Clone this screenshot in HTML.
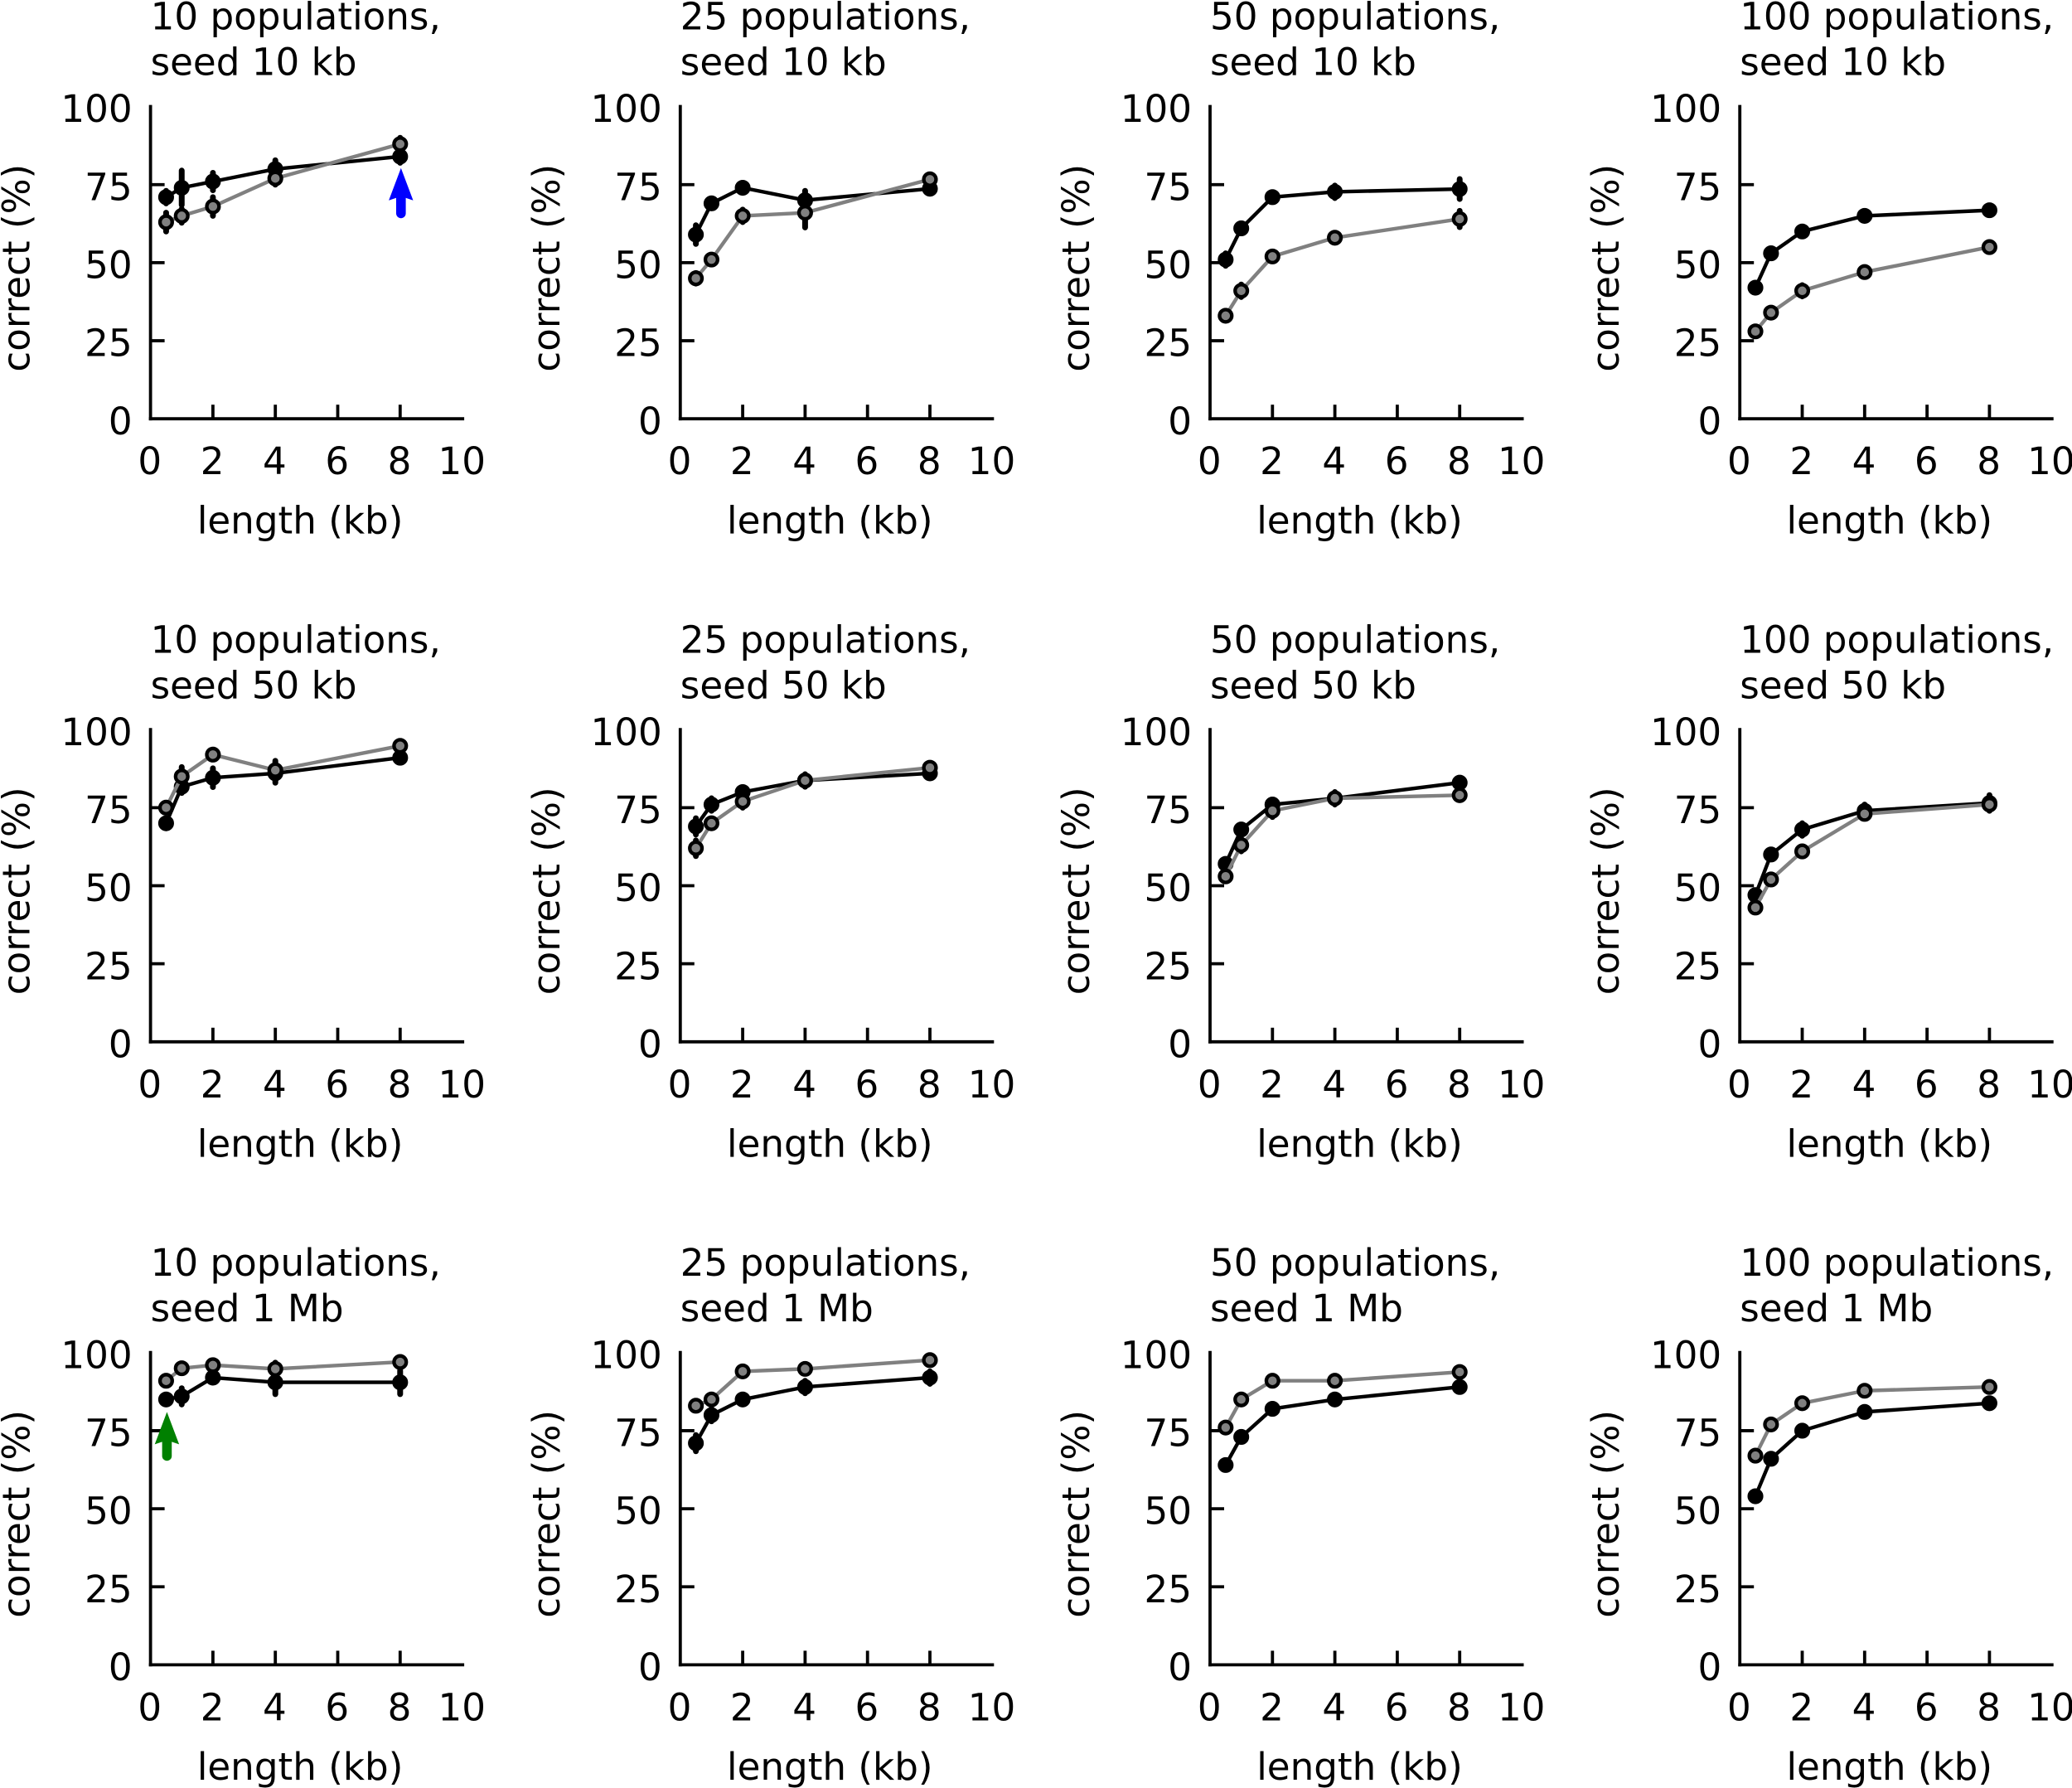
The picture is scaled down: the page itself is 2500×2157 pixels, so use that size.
<!DOCTYPE html>
<html lang="en">
<head>
<meta charset="utf-8">
<title>Percent correct versus length across populations and seed sizes</title>
<style>
html,body{margin:0;padding:0;background:#fff;width:2500px;height:2157px;overflow:hidden}
svg{display:block}
text{font-family:"DejaVu Sans","Liberation Sans",sans-serif;font-size:45.2px;fill:#000}
</style>
</head>
<body>
<svg id="chart" xmlns="http://www.w3.org/2000/svg" width="2500" height="2157" viewBox="0 0 2500 2157"></svg>
<script>
const populations = [10, 25, 50, 100];
const seeds = ['10 kb', '50 kb', '1 Mb'];
const lengths = [0.5, 1, 2, 4, 8];
const xTickLabels = [0, 2, 4, 6, 8, 10];
const yTickLabels = [0, 25, 50, 75, 100];

const blackValues = [
  [[71, 74, 76, 80, 84], [59, 69, 74, 70, 73.7], [51, 61, 71, 72.7, 73.6], [42, 53, 60, 65, 66.8]],
  [[70, 81.7, 84.6, 86, 91], [69, 76, 80, 83.7, 86], [57, 68, 76, 78, 83], [47, 60, 68, 74, 76.5]],
  [[85, 86, 92, 90.5, 90.5], [71, 80, 85, 89, 92], [64, 73, 82, 85, 89], [54, 66, 75, 81, 83.8]]
];
const grayValues = [
  [[63, 65, 68, 77, 88], [45, 51, 65, 66, 76.7], [33, 41, 52, 58, 64], [28, 34, 41, 47, 55]],
  [[75, 85, 92, 87, 94.8], [62, 70, 77, 83.7, 87.8], [53, 63, 74, 78, 79], [43, 52, 61, 73, 76]],
  [[91, 95, 96, 94.8, 97], [83, 85, 94, 94.8, 97.6], [76, 85, 91, 91, 93.8], [67, 77, 83.8, 87.8, 89]]
];
const blackErrors = [
  [[2, 5.5, 2.8, 2.8, 2], [3, 1, 1, 3, 0], [2, 0, 0, 2, 3.2], [0, 0, 0, 0, 0]],
  [[1.6, 2, 3, 3, 0], [2.6, 2, 1, 1, 0], [0, 0, 0, 0, 0], [1.5, 0, 2, 2, 2.5]],
  [[1.5, 2.6, 1.5, 3.8, 3.8], [2.6, 2, 0, 2, 2], [0, 0, 0, 0, 0], [0, 0, 0, 0, 0]]
];
const grayErrors = [
  [[3, 2.2, 3, 2, 2], [1.7, 0, 2, 4.7, 0], [0, 2, 0, 0, 2.6], [0, 0, 1.8, 0, 0]],
  [[1.5, 3, 0, 3, 0], [2.5, 0, 2, 2, 0], [0, 2, 2, 2, 0], [0, 0, 0, 0, 0]],
  [[0, 0, 0, 2, 0], [0, 0, 0, 0, 0], [0, 0, 0, 0, 0], [0, 0, 0, 0, 0]]
];

const blueArrowPanel = [0, 0];
const blueArrowX = 8;
const blueArrowRange = [65.8, 80.3];
const greenArrowPanel = [2, 0];
const greenArrowX = 0.5;
const greenArrowRange = [66.9, 81];

const NS = 'http://www.w3.org/2000/svg';
const svg = document.getElementById('chart');
const PANEL_W = 376.5;
const PANEL_H = 376.6;
const COL_STEP = 639.2;
const ROW_STEP = 751.6;
const LEFT = 181.6;
const BOTTOM = 505.2;

function make(parent, tag, attrs) {
  const el = document.createElementNS(NS, tag);
  for (const k in attrs) el.setAttribute(k, attrs[k]);
  parent.appendChild(el);
  return el;
}
function scaleX(col, v) { return LEFT + COL_STEP * col + v / 10 * PANEL_W; }
function scaleY(row, v) { return BOTTOM + ROW_STEP * row - v / 100 * PANEL_H; }

function drawSeries(g, row, col, values, errors, color, kind) {
  const eg = make(g, 'g', {});
  
  
  values.forEach(function (v, i) {
    if (!errors[i]) return;
    const bar = make(eg, 'line', {
      x1: scaleX(col, lengths[i]), x2: scaleX(col, lengths[i]),
      y1: scaleY(row, v - errors[i]), y2: scaleY(row, v + errors[i]),
      stroke: '#000', 'stroke-width': 7, 'stroke-linecap': 'round'
    });
    
    
  });
  const pts = values.map(function (v, i) { return scaleX(col, lengths[i]) + ',' + scaleY(row, v); }).join(' ');
  const line = make(g, 'polyline', { points: pts, fill: 'none', stroke: color, 'stroke-width': 4.4, 'stroke-linejoin': 'round' });
  
  
  values.forEach(function (v, i) {
    const dot = make(g, 'circle', {
      cx: scaleX(col, lengths[i]), cy: scaleY(row, v), r: 7.4,
      fill: color, stroke: '#000', 'stroke-width': 4.3
    });
    
    
  });
}

function drawArrow(row, col, xVal, range, color, name) {
  const g = make(svg, 'g', {});
  
  
  const x = scaleX(col, xVal) + 1;
  const tip = scaleY(row, range[1]);
  const tail = scaleY(row, range[0]);
  const base = tip + 39;
  make(g, 'line', { x1: x, x2: x, y1: tail, y2: base - 4, stroke: color, 'stroke-width': 11.6, 'stroke-linecap': 'round' });
  make(g, 'polygon', {
    points: [x + ',' + tip, (x + 14.7) + ',' + base, (x + 5.8) + ',' + (base - 3), (x - 5.8) + ',' + (base - 3), (x - 14.7) + ',' + base].join(' '),
    fill: color
  });
}

seeds.forEach(function (seed, row) {
  populations.forEach(function (pop, col) {
    const panel = make(svg, 'g', {});
    
    
    const x0 = scaleX(col, 0);
    const y0 = scaleY(row, 0);

    const title = make(panel, 'text', { x: x0, y: y0 - 469.5 });
    
    
    const t1 = make(title, 'tspan', { x: x0, dy: 0 });
    t1.textContent = pop + ' populations,';
    const t2 = make(title, 'tspan', { x: x0, dy: 55 });
    t2.textContent = 'seed ' + seed;

    xTickLabels.forEach(function (t) {
      const px = scaleX(col, t);
      if (t > 0 && t < 10) {
        const tick = make(panel, 'line', { x1: px, x2: px, y1: y0, y2: y0 - 17, stroke: '#000', 'stroke-width': 3.8 });
        
        
      }
      const lab = make(panel, 'text', { x: px - 0.8, y: y0 + 67, 'text-anchor': 'middle' });
      
      
      lab.textContent = t;
    });

    yTickLabels.forEach(function (t) {
      const py = scaleY(row, t);
      if (t > 0 && t < 100) {
        const tick = make(panel, 'line', { x1: x0, x2: x0 + 17, y1: py, y2: py, stroke: '#000', 'stroke-width': 3.8 });
        
        
      }
      const lab = make(panel, 'text', { x: x0 - 22, y: py + 18.6, 'text-anchor': 'end' });
      
      
      lab.textContent = t;
    });

    const yAxis = make(panel, 'line', { x1: x0, x2: x0, y1: y0 + 1.9, y2: scaleY(row, 100) - 2, stroke: '#000', 'stroke-width': 3.8 });
    
    
    const xAxis = make(panel, 'line', { x1: x0 - 1.9, x2: scaleX(col, 10) + 2, y1: y0, y2: y0, stroke: '#000', 'stroke-width': 3.8 });
    
    

    const xTitle = make(panel, 'text', { x: x0 + 180.5, y: y0 + 138.5, 'text-anchor': 'middle' });
    
    
    xTitle.textContent = 'length (kb)';

    const yx = x0 - 146;
    const yy = y0 - 182;
    const yTitle = make(panel, 'text', { x: yx, y: yy, 'text-anchor': 'middle', transform: 'rotate(-90 ' + yx + ' ' + yy + ')' });
    
    
    yTitle.textContent = 'correct (%)';

    drawSeries(panel, row, col, blackValues[row][col], blackErrors[row][col], '#000000', 'black');
    drawSeries(panel, row, col, grayValues[row][col], grayErrors[row][col], '#808080', 'gray');
  });
});

drawArrow(blueArrowPanel[0], blueArrowPanel[1], blueArrowX, blueArrowRange, '#0000ff', 'blue-arrow');
drawArrow(greenArrowPanel[0], greenArrowPanel[1], greenArrowX, greenArrowRange, '#008000', 'green-arrow');
</script>
</body>
</html>
